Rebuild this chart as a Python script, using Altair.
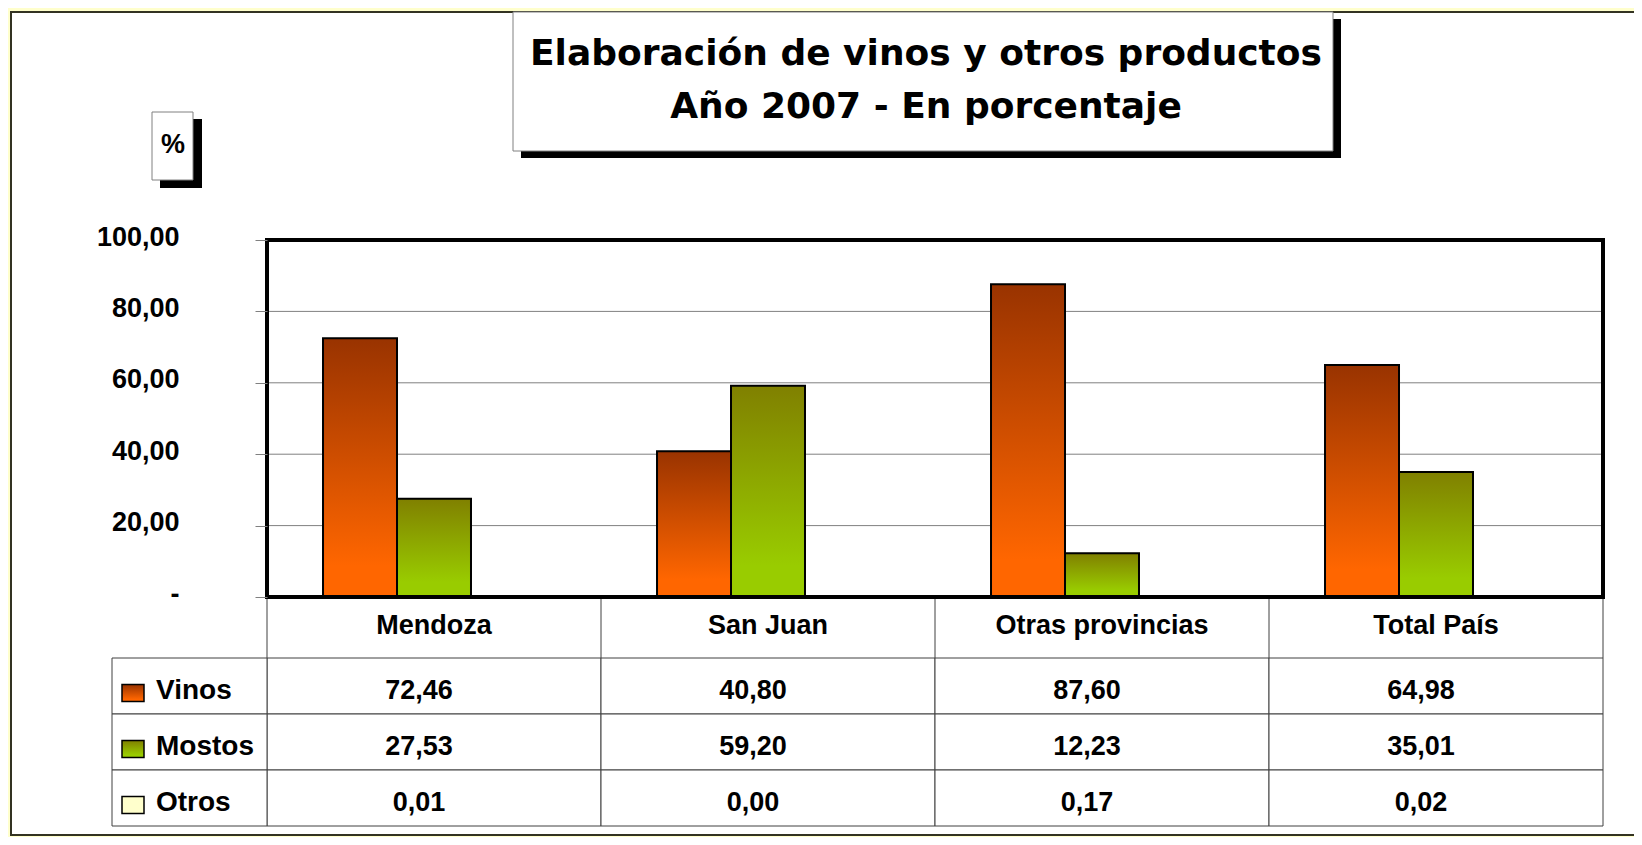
import altair as alt
import pandas as pd

# ---------------- data ----------------
CATEGORIES = ["Mendoza", "San Juan", "Otras provincias", "Total País"]
SERIES = ["Vinos", "Mostos", "Otros"]
VINOS = [72.46, 40.80, 87.60, 64.98]
MOSTOS = [27.53, 59.20, 12.23, 35.01]
OTROS = [0.01, 0.00, 0.17, 0.02]
Y_TICKS = [0, 20, 40, 60, 80, 100]
GRID_VALUES = [20, 40, 60, 80]
TITLE_LINES = ["Elaboración de vinos y otros productos", "Año 2007 -  En porcentaje"]
UNIT_LABEL = "%"
HEADER_KEY = "_header"
ROWS = [HEADER_KEY] + SERIES

SERIES_VALUES = {"Vinos": VINOS, "Mostos": MOSTOS, "Otros": OTROS}
GRADIENTS = {
    "Vinos": [("#993300", 0.0), ("#FF6600", 0.88), ("#FF6600", 1.0)],
    "Mostos": [("#808000", 0.0), ("#99CC00", 0.85), ("#99CC00", 1.0)],
    "Otros": [("#FFFFCC", 0.0), ("#FFFFCC", 1.0)],
}

records = []
for s in SERIES:
    for c, v in zip(CATEGORIES, SERIES_VALUES[s]):
        records.append({"cat": c, "serie": s, "row": s, "value": v})
df = pd.DataFrame(records)
df_header = pd.DataFrame({"cat": CATEGORIES, "row": [HEADER_KEY] * len(CATEGORIES)})
df_rows = pd.DataFrame({"row": SERIES})
one = alt.Data(values=[{}])

# ---------------- layout ----------------
PLOT_W, PLOT_H = 1336, 357
FONT = "Liberation Sans"
LINE = "#404040"


def grad(s):
    return alt.Gradient(
        gradient="linear", x1=0, x2=0, y1=0, y2=1,
        stops=[alt.GradientStop(color=c, offset=o) for c, o in GRADIENTS[s]],
    )


x_scale = alt.Scale(domain=CATEGORIES, paddingInner=0, paddingOuter=0)
xoff_scale = alt.Scale(domain=SERIES, paddingInner=0, paddingOuter=0.757)
y_scale = alt.Scale(domain=[0, 100], nice=False, zero=True)
row_scale = alt.Scale(domain=ROWS, range=[362, 586], paddingInner=0, paddingOuter=0)

X = alt.X("cat:N", scale=x_scale, axis=None)
ROW = alt.Y("row:N", scale=row_scale, axis=None)

y_axis = alt.Axis(
    values=Y_TICKS,
    labelExpr="datum.value == 0 ? '-' : replace(format(datum.value, '.2f'), '.', ',')",
    grid=False, domain=False, tickColor="#808080", tickSize=12, tickWidth=1,
    labelPadding=76, labelFont=FONT, labelFontSize=27, labelFontWeight="bold",
    labelColor="black", labelOffset=-3, labelBaseline="middle", title=None, zindex=1,
)

layers = []

# white panel
layers.append(alt.Chart(one).mark_rect(fill="white", stroke="#333322", strokeWidth=2).encode(
    x=alt.value(-256), x2=alt.value(1420), y=alt.value(-228), y2=alt.value(595)))

# title box with shadow
layers.append(alt.Chart(one).mark_rect(fill="black").encode(
    x=alt.value(254), x2=alt.value(1074), y=alt.value(-221), y2=alt.value(-82)))
layers.append(alt.Chart(one).mark_rect(fill="white", stroke="#808080", strokeWidth=1).encode(
    x=alt.value(246), x2=alt.value(1066), y=alt.value(-228), y2=alt.value(-89)))
layers.append(alt.Chart(one).mark_text(
    font="DejaVu Sans", fontSize=36, fontWeight="bold", align="center",
    baseline="alphabetic", lineHeight=53, color="black").encode(
    x=alt.value(659), y=alt.value(-175), text=alt.value(TITLE_LINES)))

# % box with shadow
layers.append(alt.Chart(one).mark_rect(fill="black").encode(
    x=alt.value(-107), x2=alt.value(-65), y=alt.value(-121), y2=alt.value(-52)))
layers.append(alt.Chart(one).mark_rect(fill="white", stroke="#808080", strokeWidth=1).encode(
    x=alt.value(-115), x2=alt.value(-74), y=alt.value(-128), y2=alt.value(-60)))
layers.append(alt.Chart(one).mark_text(
    font=FONT, fontSize=27, fontWeight="bold", align="center", baseline="alphabetic",
    color="black").encode(x=alt.value(-94), y=alt.value(-87.5), text=alt.value(UNIT_LABEL)))

# gridlines
layers.append(alt.Chart(pd.DataFrame({"g": GRID_VALUES})).mark_rule(
    color="#808080", strokeWidth=1).encode(y=alt.Y("g:Q", scale=y_scale, axis=None)))

# bars
for i, s in enumerate(SERIES):
    layers.append(alt.Chart(df[df.serie == s]).mark_bar(
        fill=grad(s), stroke="black", strokeWidth=2).encode(
        x=X,
        xOffset=alt.XOffset("serie:N", scale=xoff_scale),
        y=alt.Y("value:Q", scale=y_scale, axis=y_axis if i == 0 else None),
    ))

# ---------------- data table ----------------
# value cells
layers.append(alt.Chart(df).mark_rect(fill="white", stroke=LINE, strokeWidth=1).encode(
    x=X, y=ROW))
# header verticals
layers.append(alt.Chart(df_header).mark_rule(color=LINE, strokeWidth=1).encode(
    x=alt.X("cat:N", scale=x_scale, axis=None, bandPosition=0),
    y=alt.value(PLOT_H), y2=alt.value(418)))
layers.append(alt.Chart(one).mark_rule(color=LINE, strokeWidth=1).encode(
    x=alt.value(PLOT_W), y=alt.value(PLOT_H), y2=alt.value(418)))
# left legend cells
layers.append(alt.Chart(df_rows).mark_rect(fill="white", stroke=LINE, strokeWidth=1).encode(
    x=alt.value(-155), x2=alt.value(0), y=ROW))
# header text
layers.append(alt.Chart(df_header).mark_text(
    font=FONT, fontSize=27, fontWeight="bold", color="black", baseline="middle", dy=-4).encode(
    x=X, y=ROW, text="cat:N"))
# values text
layers.append(alt.Chart(df).transform_calculate(
    label="replace(format(datum.value, '.2f'), '.', ',')").mark_text(
    font=FONT, fontSize=27, fontWeight="bold", color="black", baseline="middle",
    dx=-15, dy=4.5).encode(x=X, y=ROW, text="label:N"))
# legend swatches
SWATCH = "M-1,-0.77H1V0.77H-1Z"
for s in SERIES:
    layers.append(alt.Chart(df_rows[df_rows.row == s]).mark_point(
        shape=SWATCH, size=484, filled=True, fill=grad(s), stroke="black",
        strokeWidth=1.5, opacity=1, yOffset=7).encode(x=alt.value(-134), y=ROW))
# legend text
layers.append(alt.Chart(df_rows).mark_text(
    font=FONT, fontSize=28, fontWeight="bold", color="black", align="left",
    baseline="middle", dy=4.5).encode(x=alt.value(-111), y=ROW, text="row:N"))

# plot frame on top
layers.append(alt.Chart(one).mark_rect(fillOpacity=0, stroke="black", strokeWidth=4).encode(
    x=alt.value(0), x2=alt.value(PLOT_W), y=alt.value(0), y2=alt.value(PLOT_H)))

chart = alt.layer(*layers).resolve_scale(y="independent").properties(
    width=PLOT_W, height=PLOT_H,
    padding={"left": 259, "top": 232, "right": 31, "bottom": 240},
    autosize=alt.AutoSizeParams(type="none"),
).configure(background="#FFFFCC").configure_view(strokeWidth=0)

chart.save("out.html", embed_options={"renderer": "svg", "actions": False})
